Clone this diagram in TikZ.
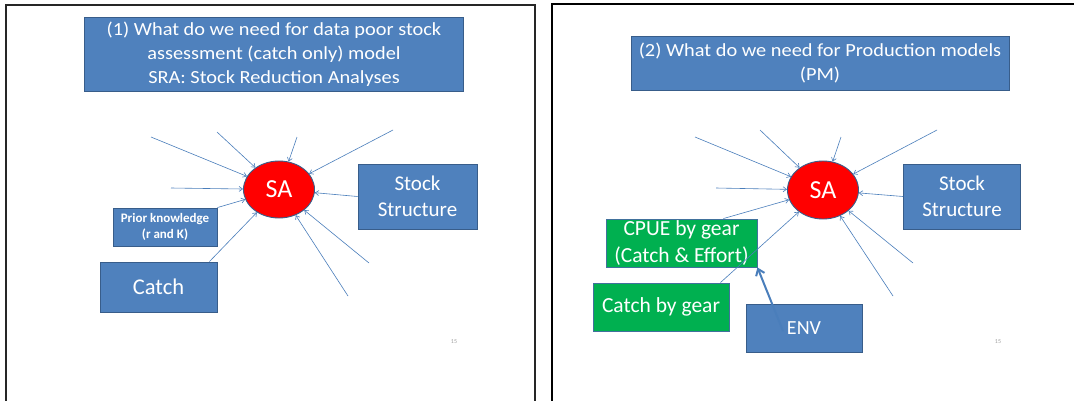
\documentclass[tikz,border=0pt]{standalone}
\usepackage{fontspec}
\setmainfont{Carlito}
\newfontfamily\widesans[FakeStretch=1.1]{Carlito}
\usetikzlibrary{arrows.meta,shapes.geometric}
\definecolor{boxblue}{HTML}{4F81BD}
\definecolor{boxedge}{HTML}{385D8A}
\definecolor{boxgreen}{HTML}{00B050}
\definecolor{greenedge}{HTML}{41719C}
\definecolor{lineblue}{HTML}{4A7EBB}
\definecolor{pagegray}{HTML}{A0A0A0}
\tikzset{
  box/.style={draw=boxedge, line width=0.9pt, fill=boxblue, text=white,
    align=center, inner sep=0pt},
  gbox/.style={box, draw=greenedge, fill=boxgreen},
  hub/.style={ellipse, draw=boxedge, line width=0.9pt, fill=red, text=white,
    inner sep=0pt, font=\fontsize{26}{30}\selectfont},
  feed/.style={draw=lineblue, line width=0.6pt,
    -{Straight Barb[length=3.5pt,width=5pt]}},
  bigfeed/.style={draw=lineblue, line width=2pt,
    -{Straight Barb[length=6pt,width=9pt]}},
  titlefont/.style={font=\widesans\fontsize{18.5}{24}\selectfont},
  stockfont/.style={font=\fontsize{21}{26}\selectfont},
  bigfont/.style={font=\fontsize{21.5}{27}\selectfont},
  pageno/.style={text=pagegray, font=\fontsize{6}{7}\selectfont},
  frame/.style={draw=black!85, line width=1.5pt}
}
\begin{document}
\begin{tikzpicture}[x=1pt,y=-1pt]
\useasboundingbox (0,0) rectangle (1074,400);
\fill[white] (0,0) rectangle (1074,400);

% slide frames
\draw[frame] (6,410) -- (6,5) -- (535,5) -- (535,410);
\draw[frame, line width=2pt, draw=black] (552,410) -- (552,4) -- (1080,4);

% ---------- slide 1: stock reduction analysis ----------
\node[box, titlefont, minimum width=379pt, minimum height=74pt] (title1) at (274,54)
  {(1) What do we need for data poor stock\\assessment (catch only) model\\SRA: Stock Reduction Analyses};
\node[hub, minimum width=71pt, minimum height=57pt] (sa1) at (279,189.5) {SA};
\node[box, stockfont, minimum width=119pt, minimum height=65pt] (stock1) at (417.5,196.5) {Stock\\Structure};
\node[box, font=\fontsize{13}{16.5}\selectfont\bfseries, minimum width=104pt, minimum height=38pt] (prior1) at (165,227) {Prior knowledge\\(r and K)};
\node[box, font=\fontsize{22.5}{27}\selectfont, minimum width=117pt, minimum height=50pt] (catch1) at (158.5,287) {Catch};
\node[pageno] (page1) at (454,342) {15};

\coordinate (a1) at (151,137);
\coordinate (a2) at (217,132);
\coordinate (a3) at (297,137);
\coordinate (a4) at (393,130);
\coordinate (a5) at (171,188);
\coordinate (a9) at (369,263);
\coordinate (a10) at (348,296);
\foreach \c in {a1,a2,a3,a4,a5,a9,a10} \draw[feed] (\c) -- (sa1);
\draw[feed] (prior1.north east) -- (sa1);
\draw[feed] ([xshift=-8pt]catch1.north east) -- (sa1);
\draw[feed] (stock1.west) -- (sa1);

% ---------- slide 2: production models ----------
\node[box, titlefont, minimum width=378pt, minimum height=54pt] (title2) at (820,63)
  {(2) What do we need for Production models\\(PM)};
\node[hub, minimum width=71pt, minimum height=58pt] (sa2) at (823,190) {SA};
\node[box, stockfont, minimum width=117pt, minimum height=65pt] (stock2) at (962,196.5) {Stock\\Structure};
\node[gbox, bigfont, minimum width=151pt, minimum height=48pt] (cpue) at (681.5,243) {CPUE by gear\\(Catch \& Effort)};
\node[gbox, bigfont, minimum width=136pt, minimum height=48pt] (cbg) at (661,307) {Catch by gear};
\node[box, font=\fontsize{20}{27}\selectfont, minimum width=116pt, minimum height=48pt] (env) at (804,328) {ENV};
\node[pageno] (page2) at (998,342) {15};

\coordinate (b1) at (695,137);
\coordinate (b2) at (760,130);
\coordinate (b3) at (841,137);
\coordinate (b4) at (937,130);
\coordinate (b5) at (716,188);
\coordinate (b9) at (913,263);
\coordinate (b10) at (893,296);
\foreach \c in {b1,b2,b3,b4,b5,b9,b10} \draw[feed] (\c) -- (sa2);
\draw[feed] ([xshift=-34pt]cpue.north east) -- (sa2);
\draw[feed] ([xshift=-9pt]cbg.north east) -- (sa2);
\draw[feed] (stock2.west) -- (sa2);
\coordinate (envsrc) at (783,331);
\draw[bigfeed] (envsrc) -- (cpue.south east);
\end{tikzpicture}
\end{document}
